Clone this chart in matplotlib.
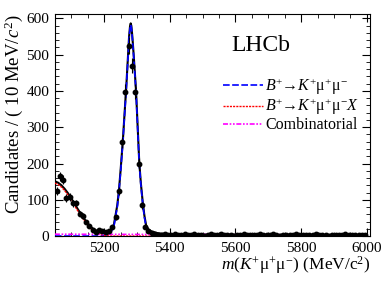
import numpy as np
import matplotlib
matplotlib.use("Agg")
import matplotlib.pyplot as plt
from matplotlib.ticker import MultipleLocator

plt.rcParams['font.family'] = ['Liberation Serif', 'DejaVu Serif']
plt.rcParams['mathtext.fontset'] = 'custom'
plt.rcParams['mathtext.rm'] = 'Liberation Serif'
plt.rcParams['mathtext.it'] = 'Liberation Serif:italic'

# binned data (10 MeV bins)
bin_lo = 5050
bin_width = 10
counts = [125, 165, 155, 105, 108, 90, 90, 62, 55, 38,
          28, 18, 12, 18, 15, 10, 14, 25, 52, 124,
          258, 398, 525, 470, 398, 200, 85, 25, 14, 8,
          5, 2, 3, 6, 4, 3, 5, 2, 4, 6,
          3, 2, 5, 4, 3, 1, 4, 6, 2, 3,
          5, 4, 2, 3, 1, 4, 3, 5, 2, 4,
          3, 2, 6, 3, 4, 2, 5, 3, 1, 4,
          3, 2, 4, 5, 2, 3, 4, 2, 3, 5,
          2, 4, 3, 1, 3, 4, 2, 3, 5, 2,
          3, 4, 2, 3, 4]

# fit components
curve_x = [5050, 5060, 5070, 5080, 5090, 5100, 5110, 5120, 5130, 5140,
           5150, 5160, 5170, 5180, 5190, 5200, 5210, 5220, 5230, 5240,
           5245, 5250, 5257, 5262, 5267, 5272, 5276, 5279, 5281, 5283,
           5286, 5290, 5294, 5297, 5302, 5307, 5312, 5318, 5323, 5328,
           5335, 5345, 5360, 5380, 5400, 5450, 5500, 6000]
signal = [0, 0, 0, 0, 0, 0, 0, 0, 0, 0,
          0, 0, 0, 0.2, 0.8, 2, 4, 9, 28, 80,
          120, 175, 258, 330, 400, 480, 545, 575, 582, 575,
          545, 495, 440, 400, 300, 199, 140, 85, 50, 25,
          14, 8, 4, 2, 1, 0.5, 0.2, 0]
partreco = [146, 142, 135, 125, 113, 99, 84, 69, 55, 42,
            30, 20, 13, 8, 4, 2, 0.5, 0, 0, 0,
            0, 0, 0, 0, 0, 0, 0, 0, 0, 0,
            0, 0, 0, 0, 0, 0, 0, 0, 0, 0,
            0, 0, 0, 0, 0, 0, 0, 0]
comb_x = [5050, 6000]
comb = [5, 3]

centers = bin_lo + bin_width * (np.arange(len(counts)) + 0.5)
counts = np.array(counts)
errs = np.sqrt(np.maximum(counts, 1))
comb_on_grid = np.interp(curve_x, comb_x, comb)
total = np.array(signal) + np.array(partreco) + comb_on_grid

fig = plt.figure(figsize=(3.92, 2.82), dpi=100)
ax = fig.add_axes([0.140, 0.163, 0.804, 0.787])

ax.plot(curve_x, total, color='black', lw=1.5, zorder=3)
ax.plot(curve_x, signal, color='blue', lw=1.2, ls=(0, (4, 1.5)), zorder=4,
        label=r'$B^{+}\!\!\rightarrow\! K^{+}$μ$^{+}$μ$^{-}$')
ax.plot(curve_x, partreco, color='red', lw=1.0, ls=(0, (1.5, 0.8)), zorder=4,
        label=r'$B^{+}\!\!\rightarrow\! K^{+}$μ$^{+}$μ$^{-}X$')
ax.plot(comb_x, comb, color='magenta', lw=1.2, ls=(0, (3, 1, 1, 1, 1, 1)), zorder=4,
        label='Combinatorial')
ax.errorbar(centers, counts, yerr=errs, xerr=bin_width / 2, fmt='o', ms=3.2,
            color='black', elinewidth=0.8, capsize=0, zorder=5)

ax.set_xlim(5050, 6010)
ax.set_ylim(0, 612)
ax.xaxis.set_major_locator(MultipleLocator(200))
ax.xaxis.set_minor_locator(MultipleLocator(50))
ax.yaxis.set_major_locator(MultipleLocator(100))
ax.yaxis.set_minor_locator(MultipleLocator(20))
ax.tick_params(which='both', direction='in', top=True, right=True, labelsize=11, pad=4)
ax.tick_params(which='major', length=6)
ax.tick_params(which='minor', length=3)

ax.set_xlabel(r'$m$($K^{+}$μ$^{+}$μ$^{-}$) (MeV/c$^{2}$)', fontsize=12.5, loc='right', labelpad=0)
ax.set_ylabel(r'Candidates / ( 10 MeV/$c^{2}$)', fontsize=13.5, loc='top')
ax.yaxis.set_label_coords(-0.095, 1.0)

ax.text(0.56, 0.86, 'LHCb', transform=ax.transAxes, fontsize=17, ha='left', va='center')

ax.legend(loc='upper left', bbox_to_anchor=(0.535, 0.72), frameon=False, fontsize=11.5,
          handlelength=2.5, handletextpad=0.1, labelspacing=0.0, borderpad=0, borderaxespad=0)

fig.savefig('out.png', dpi=100)
